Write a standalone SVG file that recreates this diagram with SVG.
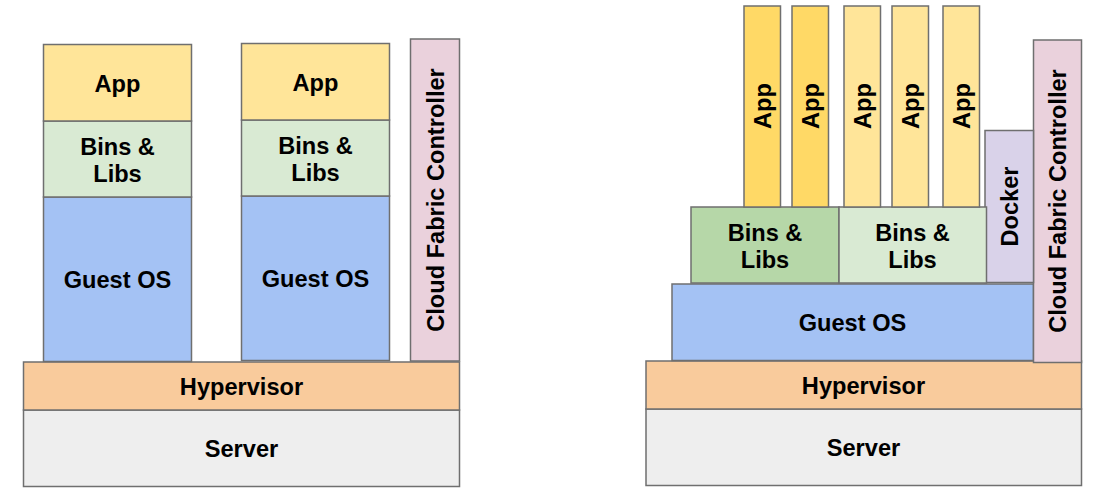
<svg xmlns="http://www.w3.org/2000/svg" width="1106" height="494" viewBox="0 0 1106 494">
<style>
rect{stroke:#6f6f6f;stroke-width:1.5}
text{font-family:"Liberation Sans",Arial,sans-serif;font-weight:bold;font-size:23.6px;fill:#000;text-anchor:middle}
.app{fill:#ffe599}.appd{fill:#ffd966}.bins{fill:#d9ead3}.binsd{fill:#b6d7a8}.os{fill:#a4c2f4}
.hyp{fill:#f9cb9c}.srv{fill:#eeeeee}.cfc{fill:#ead1dc}.dock{fill:#d9d2e9}
</style>
<rect width="1106" height="494" fill="#fff" style="stroke:none"/>
<!-- Left diagram -->
<g id="left-server"><rect class="srv" x="23.5" y="410" width="436" height="76.5"/><text x="241.5" y="456.5">Server</text></g>
<g id="left-hypervisor"><rect class="hyp" x="23.5" y="362" width="436" height="48"/><text x="241.5" y="394.5">Hypervisor</text></g>
<g id="left-cfc"><rect class="cfc" x="410.5" y="39" width="49" height="322"/><text transform="translate(435,200) rotate(-90)" y="8.5">Cloud Fabric Controller</text></g>
<g id="left-os1"><rect class="os" x="43.5" y="197" width="148" height="164.5"/><text x="117.5" y="287.5">Guest OS</text></g>
<g id="left-bins1"><rect class="bins" x="43.5" y="121" width="148" height="76"/><text x="117.5" y="154.5">Bins &amp;</text><text x="117.5" y="182">Libs</text></g>
<g id="left-app1"><rect class="app" x="43.5" y="44.5" width="148" height="76.5"/><text x="117.5" y="91.5">App</text></g>
<g id="left-os2"><rect class="os" x="241.5" y="196" width="148" height="164.5"/><text x="315.5" y="286.5">Guest OS</text></g>
<g id="left-bins2"><rect class="bins" x="241.5" y="120" width="148" height="76"/><text x="315.5" y="153.5">Bins &amp;</text><text x="315.5" y="181">Libs</text></g>
<g id="left-app2"><rect class="app" x="241.5" y="43.5" width="148" height="76.5"/><text x="315.5" y="90.5">App</text></g>
<!-- Right diagram -->
<g id="right-server"><rect class="srv" x="646" y="409" width="435.5" height="76.5"/><text x="863.5" y="455.5">Server</text></g>
<g id="right-hypervisor"><rect class="hyp" x="646" y="361" width="435.5" height="48"/><text x="863.5" y="393.5">Hypervisor</text></g>
<g id="right-os"><rect class="os" x="672" y="284" width="361.5" height="76.5"/><text x="852.5" y="330.5">Guest OS</text></g>
<g id="right-cfc"><rect class="cfc" x="1033.5" y="40" width="48" height="322.5"/><text transform="translate(1057.5,201) rotate(-90)" y="8.5">Cloud Fabric Controller</text></g>
<g id="right-docker"><rect class="dock" x="985" y="130.5" width="48.5" height="152"/><text transform="translate(1009,206.5) rotate(-90)" y="8.5">Docker</text></g>
<g id="right-bins1"><rect class="binsd" x="691" y="207" width="148" height="76"/><text x="765" y="240.5">Bins &amp;</text><text x="765" y="268">Libs</text></g>
<g id="right-bins2"><rect class="bins" x="839" y="207" width="147.5" height="76"/><text x="912.5" y="240.5">Bins &amp;</text><text x="912.5" y="268">Libs</text></g>
<g id="right-app1"><rect class="appd" x="744" y="6" width="36.5" height="201"/><text transform="translate(762,106) rotate(-90)" y="8.5">App</text></g>
<g id="right-app2"><rect class="appd" x="792" y="6" width="36.5" height="201"/><text transform="translate(810,106) rotate(-90)" y="8.5">App</text></g>
<g id="right-app3"><rect class="app" x="844" y="6" width="36.5" height="201"/><text transform="translate(862,106) rotate(-90)" y="8.5">App</text></g>
<g id="right-app4"><rect class="app" x="892" y="6" width="36.5" height="201"/><text transform="translate(910,106) rotate(-90)" y="8.5">App</text></g>
<g id="right-app5"><rect class="app" x="943" y="6" width="36.5" height="201"/><text transform="translate(961,106) rotate(-90)" y="8.5">App</text></g>
<g id="connectors"></g>
</svg>
